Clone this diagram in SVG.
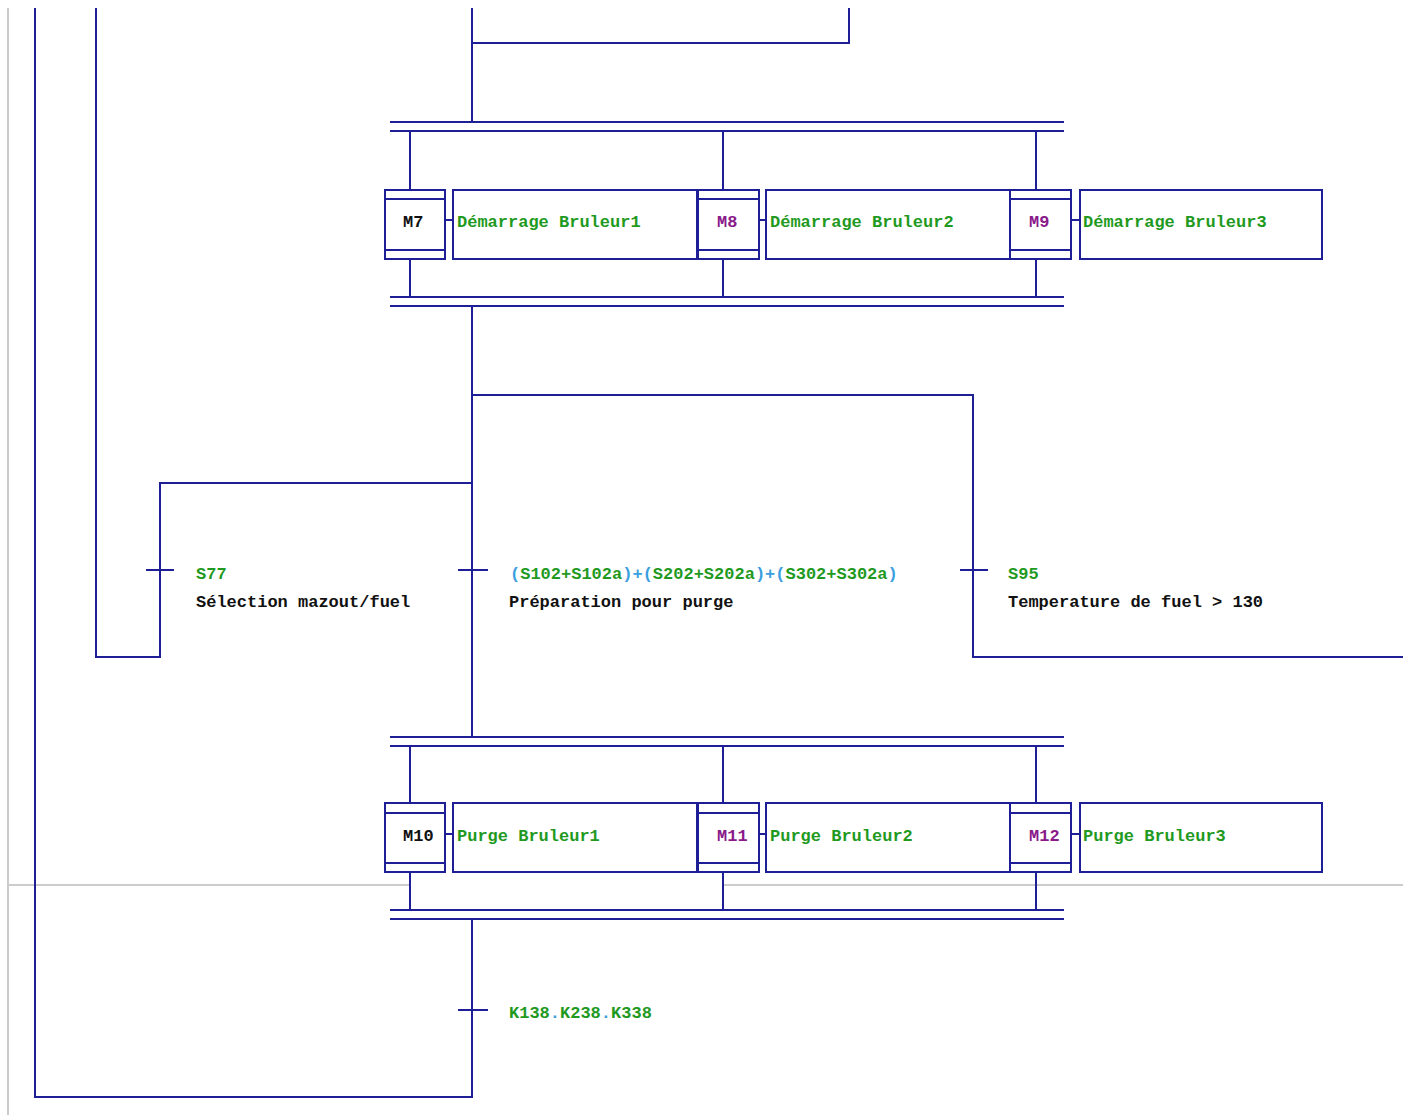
<svg xmlns="http://www.w3.org/2000/svg" width="1403" height="1117" viewBox="0 0 1403 1117">
<style>
.ln{stroke:#1e1e96;stroke-width:2;fill:none}
.bx{stroke:#1e1e96;stroke-width:2;fill:#fff}
.gr{stroke:#cccccc;stroke-width:2;fill:none}
text{font-family:"Liberation Mono","DejaVu Sans Mono",monospace;font-size:17px;font-weight:bold}
.g{fill:#1f9a1f}
.k{fill:#111}
.p{fill:#8a1a8a}
.c{fill:#3a9ee0}
</style>
<rect width="1403" height="1117" fill="#fff"/>
<g id="background">
<line class="gr" x1="8" y1="8" x2="8" y2="1115"/>
<line class="gr" x1="8" y1="885" x2="410" y2="885"/>
<line class="gr" x1="723" y1="885" x2="1403" y2="885"/>
</g>
<g id="connectors">
<polyline class="ln" points="35,8 35,1097 472,1097 472,919"/>
<polyline class="ln" points="96,8 96,657 160,657 160,483 472,483"/>
<line class="ln" x1="472" y1="8" x2="472" y2="122"/>
<polyline class="ln" points="472,43 849,43 849,8"/>
<line class="ln" x1="472" y1="306" x2="472" y2="737"/>
<polyline class="ln" points="472,395 973,395 973,657 1403,657"/>
<line class="ln" x1="146" y1="570" x2="174" y2="570"/>
<line class="ln" x1="458" y1="570" x2="488" y2="570"/>
<line class="ln" x1="960" y1="570" x2="988" y2="570"/>
<line class="ln" x1="458" y1="1010" x2="488" y2="1010"/>
<line class="ln" x1="390" y1="122" x2="1064" y2="122"/>
<line class="ln" x1="390" y1="131" x2="1064" y2="131"/>
<line class="ln" x1="390" y1="297" x2="1064" y2="297"/>
<line class="ln" x1="390" y1="306" x2="1064" y2="306"/>
<line class="ln" x1="390" y1="737" x2="1064" y2="737"/>
<line class="ln" x1="390" y1="746" x2="1064" y2="746"/>
<line class="ln" x1="390" y1="910" x2="1064" y2="910"/>
<line class="ln" x1="390" y1="919" x2="1064" y2="919"/>
<line class="ln" x1="410" y1="131" x2="410" y2="190"/>
<line class="ln" x1="723" y1="131" x2="723" y2="190"/>
<line class="ln" x1="1036" y1="131" x2="1036" y2="190"/>
<line class="ln" x1="410" y1="260" x2="410" y2="297"/>
<line class="ln" x1="723" y1="260" x2="723" y2="297"/>
<line class="ln" x1="1036" y1="260" x2="1036" y2="297"/>
<line class="ln" x1="410" y1="746" x2="410" y2="803"/>
<line class="ln" x1="723" y1="746" x2="723" y2="803"/>
<line class="ln" x1="1036" y1="746" x2="1036" y2="803"/>
<line class="ln" x1="410" y1="872" x2="410" y2="910"/>
<line class="ln" x1="723" y1="872" x2="723" y2="910"/>
<line class="ln" x1="1036" y1="872" x2="1036" y2="910"/>
<line class="ln" x1="445" y1="220" x2="453" y2="220"/>
<line class="ln" x1="759" y1="220" x2="766" y2="220"/>
<line class="ln" x1="1071" y1="220" x2="1080" y2="220"/>
<line class="ln" x1="445" y1="834" x2="453" y2="834"/>
<line class="ln" x1="759" y1="834" x2="766" y2="834"/>
<line class="ln" x1="1071" y1="834" x2="1080" y2="834"/>
</g>
<g id="A1"><rect class="bx" x="453" y="190" width="244" height="69"/><text x="457" y="227" class="g">Démarrage Bruleur1</text></g>
<g id="A2"><rect class="bx" x="766" y="190" width="244" height="69"/><text x="770" y="227" class="g">Démarrage Bruleur2</text></g>
<g id="A3"><rect class="bx" x="1080" y="190" width="242" height="69"/><text x="1083" y="227" class="g">Démarrage Bruleur3</text></g>
<g id="M7"><rect class="bx" x="385" y="190" width="60" height="69"/><line class="ln" x1="385" y1="199" x2="445" y2="199"/><line class="ln" x1="385" y1="250" x2="445" y2="250"/><text x="403" y="227" class="k">M7</text></g>
<g id="M8"><rect class="bx" x="698" y="190" width="61" height="69"/><line class="ln" x1="698" y1="199" x2="759" y2="199"/><line class="ln" x1="698" y1="250" x2="759" y2="250"/><text x="717" y="227" class="p">M8</text></g>
<g id="M9"><rect class="bx" x="1010" y="190" width="61" height="69"/><line class="ln" x1="1010" y1="199" x2="1071" y2="199"/><line class="ln" x1="1010" y1="250" x2="1071" y2="250"/><text x="1029" y="227" class="p">M9</text></g>
<g id="B1"><rect class="bx" x="453" y="803" width="244" height="69"/><text x="457" y="841" class="g">Purge Bruleur1</text></g>
<g id="B2"><rect class="bx" x="766" y="803" width="244" height="69"/><text x="770" y="841" class="g">Purge Bruleur2</text></g>
<g id="B3"><rect class="bx" x="1080" y="803" width="242" height="69"/><text x="1083" y="841" class="g">Purge Bruleur3</text></g>
<g id="M10"><rect class="bx" x="385" y="803" width="60" height="69"/><line class="ln" x1="385" y1="813" x2="445" y2="813"/><line class="ln" x1="385" y1="863" x2="445" y2="863"/><text x="403" y="841" class="k">M10</text></g>
<g id="M11"><rect class="bx" x="698" y="803" width="61" height="69"/><line class="ln" x1="698" y1="813" x2="759" y2="813"/><line class="ln" x1="698" y1="863" x2="759" y2="863"/><text x="717" y="841" class="p">M11</text></g>
<g id="M12"><rect class="bx" x="1010" y="803" width="61" height="69"/><line class="ln" x1="1010" y1="813" x2="1071" y2="813"/><line class="ln" x1="1010" y1="863" x2="1071" y2="863"/><text x="1029" y="841" class="p">M12</text></g>
<g id="T1"><text x="196" y="579" class="g">S77</text><text x="196" y="607" class="k">Sélection mazout/fuel</text></g>
<g id="T2"><text x="510" y="579"><tspan class="c">(</tspan><tspan class="g">S102+S102a</tspan><tspan class="c">)+(</tspan><tspan class="g">S202+S202a</tspan><tspan class="c">)+(</tspan><tspan class="g">S302+S302a</tspan><tspan class="c">)</tspan></text><text x="509" y="607" class="k">Préparation pour purge</text></g>
<g id="T3"><text x="1008" y="579" class="g">S95</text><text x="1008" y="607" class="k">Temperature de fuel &gt; 130</text></g>
<g id="T4"><text x="509" y="1018"><tspan class="g">K138</tspan><tspan class="c">.</tspan><tspan class="g">K238</tspan><tspan class="c">.</tspan><tspan class="g">K338</tspan></text></g>
</svg>
